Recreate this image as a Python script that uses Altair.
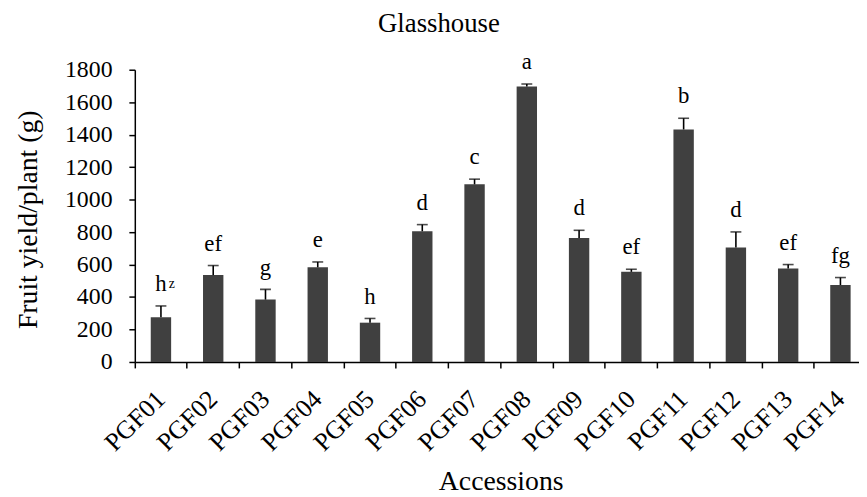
import altair as alt
import pandas as pd

accessions = ["PGF01", "PGF02", "PGF03", "PGF04", "PGF05", "PGF06", "PGF07",
              "PGF08", "PGF09", "PGF10", "PGF11", "PGF12", "PGF13", "PGF14"]
means = [275, 535, 384, 583, 242, 805, 1094, 1696, 763, 555, 1432, 705, 575, 474]
errors = [70, 59, 63, 33, 26, 41, 32, 16, 48, 16, 69, 96, 25, 46]
letters = ["h", "ef", "g", "e", "h", "d", "c", "a", "d", "ef", "b", "d", "ef", "fg"]
superscripts = ["z", "", "", "", "", "", "", "", "", "", "", "", "", ""]
y_ticks = [0, 200, 400, 600, 800, 1000, 1200, 1400, 1600, 1800]
chart_title = "Glasshouse"

df = pd.DataFrame({
    "acc": accessions,
    "mean": means,
    "err": errors,
    "letter": letters,
    "sup": superscripts,
})

FONT = "Liberation Serif"
STEP = 52.76
N = len(accessions)

x_enc = alt.X(
    "acc:N",
    sort=accessions,
    scale=alt.Scale(range=[0, STEP * N], paddingInner=0, paddingOuter=0),
    axis=alt.Axis(
        title="Accessions",
        titleFont=FONT, titleFontSize=28, titleFontWeight="normal", titleColor="black",
        titleBaseline="alphabetic", titleY=129,
        labelFont=FONT, labelFontSize=26, labelColor="black",
        labelAngle=315, labelAlign="right", labelBaseline="middle",
        labelPadding=27,
        bandPosition=0,
        domainColor="black", domainWidth=1.5,
        tickColor="black", tickWidth=1.5, tickSize=6,
        grid=False,
    ),
)

y_scale = alt.Scale(domain=[0, 1800], nice=False, zero=True)
y_axis = alt.Axis(
    title="Fruit yield/plant (g)",
    titleFont=FONT, titleFontSize=28, titleFontWeight="normal", titleColor="black",
    titleAngle=270, titleBaseline="alphabetic", titleAlign="center",
    titleX=-99, titleY=151,
    values=y_ticks, format="d", labelOverlap=False,
    labelFont=FONT, labelFontSize=24, labelColor="black", labelPadding=17,
    domainColor="black", domainWidth=1.5,
    tickColor="black", tickWidth=1.5, tickSize=6,
    grid=False,
)


def y_of(field):
    return alt.Y(field, scale=y_scale, axis=y_axis)


base = alt.Chart(df).transform_calculate(top="datum.mean + datum.err")

bars = base.mark_bar(width=alt.RelativeBandSize(0.39), color="#404040").encode(
    x=x_enc, y=y_of("mean:Q")
)

err_rule = base.mark_rule(color="black", strokeWidth=1.6).encode(
    x=x_enc, y=y_of("mean:Q"), y2="top:Q"
)

err_cap = base.mark_tick(color="black", size=11, thickness=1.6).encode(
    x=x_enc, y=y_of("top:Q")
)

labels = base.mark_text(
    font=FONT, fontSize=23, color="black", baseline="alphabetic", align="center", dy=-15
).encode(x=x_enc, y=y_of("top:Q"), text="letter:N")

sup = base.transform_filter("datum.sup != ''").mark_text(
    font=FONT, fontSize=14, color="black", baseline="alphabetic", align="center",
    dx=11, dy=-18
).encode(x=x_enc, y=y_of("top:Q"), text="sup:N")

title_mark = alt.Chart(pd.DataFrame({"t": [chart_title]})).mark_text(
    font=FONT, fontSize=27, color="black", baseline="alphabetic", align="center"
).encode(x=alt.value(307), y=alt.value(-38), text="t:N")

chart = alt.layer(bars, err_rule, err_cap, labels, sup, title_mark).properties(
    width=731,
    height=295,
    background="white",
    autosize=alt.AutoSizeParams(type="none"),
    padding={"left": 128, "top": 60, "right": 0, "bottom": 134},
).configure_view(strokeWidth=0, stroke="transparent")

chart.save("out.html", embed_options={"renderer": "svg", "actions": False})
